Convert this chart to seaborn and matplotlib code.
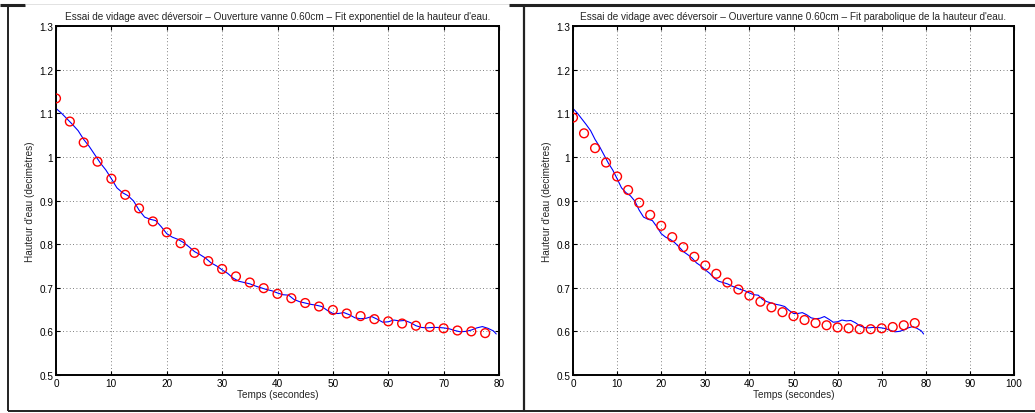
import numpy as np
import pandas as pd
import matplotlib
matplotlib.use("Agg")
import matplotlib.pyplot as plt
from matplotlib.lines import Line2D
import seaborn as sns

# Measured water height (dm), sampled every second
temps_mesure = [0, 1, 2, 3, 4, 5, 6, 7, 8, 9, 10, 11, 12, 13, 14, 15, 16, 17, 18, 19,
                20, 21, 22, 23, 24, 25, 26, 27, 28, 29, 30, 31, 32, 33, 34, 35, 36, 37, 38, 39,
                40, 41, 42, 43, 44, 45, 46, 47, 48, 49, 50, 51, 52, 53, 54, 55, 56, 57, 58, 59,
                60, 61, 62, 63, 64, 65, 66, 67, 68, 69, 70, 71, 72, 73, 74, 75, 76, 77, 78, 79, 79.5]
hauteur_mesure = [1.111, 1.100, 1.087, 1.074, 1.060, 1.040, 1.024, 1.005, 0.986, 0.970,
                  0.950, 0.929, 0.918, 0.911, 0.899, 0.878, 0.862, 0.857, 0.854, 0.840,
                  0.824, 0.816, 0.811, 0.804, 0.794, 0.783, 0.776, 0.768, 0.757, 0.750,
                  0.741, 0.733, 0.722, 0.715, 0.712, 0.709, 0.704, 0.700, 0.696, 0.693,
                  0.688, 0.684, 0.683, 0.673, 0.668, 0.665, 0.662, 0.660, 0.657, 0.648,
                  0.641, 0.641, 0.643, 0.638, 0.631, 0.629, 0.630, 0.634, 0.628, 0.621,
                  0.622, 0.626, 0.624, 0.625, 0.620, 0.613, 0.609, 0.608, 0.609, 0.609,
                  0.608, 0.606, 0.602, 0.599, 0.600, 0.603, 0.608, 0.611, 0.607, 0.601, 0.594]

# Fitted curves evaluated every 2.5 s
temps_fit = [0, 2.5, 5, 7.5, 10, 12.5, 15, 17.5, 20, 22.5, 25, 27.5, 30, 32.5, 35, 37.5,
             40, 42.5, 45, 47.5, 50, 52.5, 55, 57.5, 60, 62.5, 65, 67.5, 70, 72.5, 75, 77.5]
fit_exponentiel = [1.134, 1.081, 1.033, 0.989, 0.950, 0.913, 0.882, 0.852, 0.827, 0.802,
                   0.780, 0.761, 0.743, 0.726, 0.712, 0.699, 0.686, 0.676, 0.665, 0.657,
                   0.649, 0.641, 0.635, 0.628, 0.623, 0.618, 0.613, 0.610, 0.607, 0.602,
                   0.600, 0.596]
fit_parabolique = [1.090, 1.054, 1.020, 0.987, 0.955, 0.924, 0.895, 0.867, 0.842, 0.816,
                   0.793, 0.771, 0.751, 0.732, 0.712, 0.696, 0.682, 0.668, 0.655, 0.644,
                   0.635, 0.626, 0.619, 0.614, 0.609, 0.607, 0.605, 0.605, 0.607, 0.610,
                   0.614, 0.619]

titres = [
    "Essai de vidage avec déversoir \u2013 Ouverture vanne 0.60cm \u2013 Fit exponentiel de la hauteur d'eau.",
    "Essai de vidage avec déversoir \u2013 Ouverture vanne 0.60cm \u2013 Fit parabolique de la hauteur d'eau.",
]
y_ticks = [0.5, 0.6, 0.7, 0.8, 0.9, 1.0, 1.1, 1.2, 1.3]
y_labels = ["0.5", "0.6", "0.7", "0.8", "0.9", "1", "1.1", "1.2", "1.3"]
x_max = [80, 100]

sns.set_style("white")
plt.rcParams["font.family"] = ["Liberation Sans", "DejaVu Sans"]
FS = 7.2

W, H = 1035, 414
fig = plt.figure(figsize=(W / 100, H / 100), dpi=100)
fig.patch.set_facecolor("white")

mesure = pd.DataFrame({"t": temps_mesure, "h": hauteur_mesure})
boxes = [(56, 27, 499, 376), (573, 27, 1014, 376)]

for k, (fit, box) in enumerate(zip([fit_exponentiel, fit_parabolique], boxes)):
    x0, y0, x1, y1 = box
    ax = fig.add_axes([x0 / W, 1 - y1 / H, (x1 - x0) / W, (y1 - y0) / H])
    ax.set_facecolor("white")
    sns.lineplot(data=mesure, x="t", y="h", ax=ax, color="#0000ff", linewidth=0.8,
                 estimator=None, sort=False)
    fit_df = pd.DataFrame({"t": temps_fit, "h": fit})
    sns.scatterplot(data=fit_df, x="t", y="h", ax=ax, marker="o", s=40,
                    facecolor="none", edgecolor="#ff0000", linewidth=1.0, zorder=3)
    ax.set_xlim(0, x_max[k])
    ax.set_ylim(0.5, 1.3)
    ax.set_xticks(np.arange(0, x_max[k] + 1, 10))
    ax.set_yticks(y_ticks)
    ax.set_yticklabels(y_labels)
    ax.grid(True, linestyle=(0, (1, 3)), color="#555555", linewidth=0.6)
    ax.tick_params(direction="in", length=3, width=0.8, labelsize=FS, top=True, right=True,
                   bottom=True, left=True, pad=2, colors="black")
    for s in ax.spines.values():
        s.set_color("black")
        s.set_linewidth(1.4)
    ax.set_title(titres[k], fontsize=FS, pad=5)
    ax.set_xlabel("Temps (secondes)", fontsize=FS, labelpad=1)
    ax.set_ylabel("Hauteur d'eau (decimètres)", fontsize=FS, labelpad=3)

# Page frame around the two figures
def frame(xs, ys, lw, color="#222222"):
    fig.add_artist(Line2D([x / W for x in xs], [1 - y / H for y in ys],
                          transform=fig.transFigure, color=color, linewidth=lw,
                          solid_capstyle="butt"))

frame([0, 25], [6, 6], 2.2)
frame([25, 509], [5, 5], 0.4, "#cccccc")
frame([8, 8], [6, 412], 1.4)
frame([8, 1035], [412, 412], 1.4)
frame([524, 524], [5, 412], 1.6)
frame([509, 1035], [6, 6], 2.2)

fig.savefig("out.png", dpi=100, facecolor="white")
